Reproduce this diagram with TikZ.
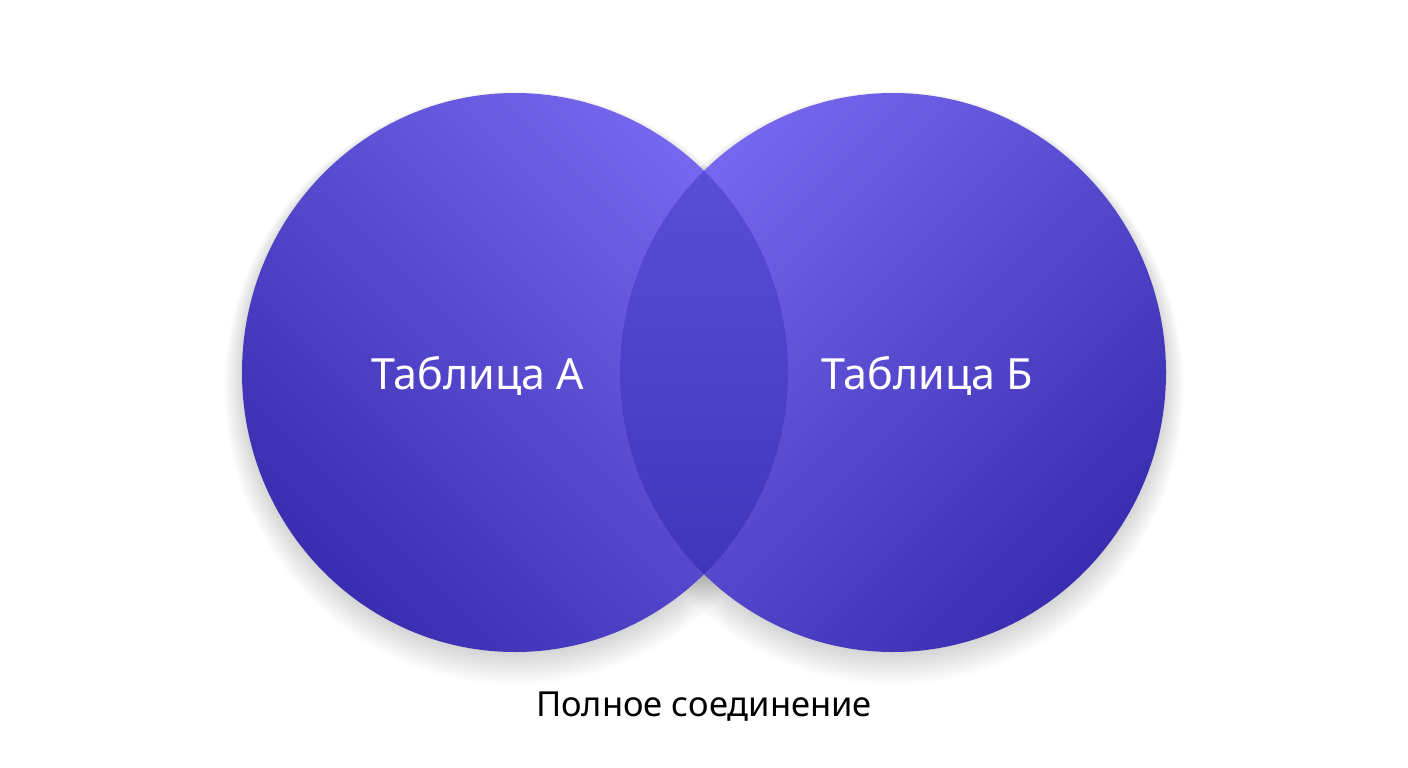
\documentclass[tikz,border=0pt]{standalone}
\usepackage{fontspec}
\setmainfont{Noto Sans}
\usetikzlibrary{shadings}
\definecolor{vlight}{HTML}{7667EE}
\definecolor{vdark}{HTML}{3A2DB0}
\definecolor{lenstop}{HTML}{5E52DC}
\definecolor{lensbot}{HTML}{3C30B4}
\tikzset{
  lbl/.style={text=white, font=\fontsize{43}{50}\selectfont},
  captext/.style={text=black, font=\fontsize{34.5}{40}\selectfont},
}
\begin{document}
\begin{tikzpicture}[x=1pt,y=-1pt]
\fill[white] (0,0) rectangle (1408,768);
\useasboundingbox (0,0) rectangle (1408,768);
% soft shadows
\foreach \k in {1,...,14}{
  \fill[black,opacity=0.01] (515,374+\k*1.0) ellipse ({271+\k*1.4} and {277+\k*1.4});
  \fill[black,opacity=0.01] (893,374+\k*1.0) ellipse ({271+\k*1.4} and {277+\k*1.4});
}
% circles
\coordinate (ca) at (515,372.5);
\coordinate (cb) at (893,372.5);
\shade[top color=vlight, bottom color=vdark, shading angle=-45]
  (ca) ellipse (273 and 279.5);
\shade[top color=vlight, bottom color=vdark, shading angle=45]
  (cb) ellipse (273 and 279.5);
% lens
\begin{scope}
  \clip (ca) ellipse (273 and 279.5);
  \shade[top color=lenstop, bottom color=lensbot] (cb) ellipse (273 and 279.5);
\end{scope}
\node[lbl] (la) at (478,376) {Таблица А};
\node[lbl] (lb) at (927,376) {Таблица Б};
\node[captext] (lc) at (704,707) {Полное соединение};
\end{tikzpicture}
\end{document}
